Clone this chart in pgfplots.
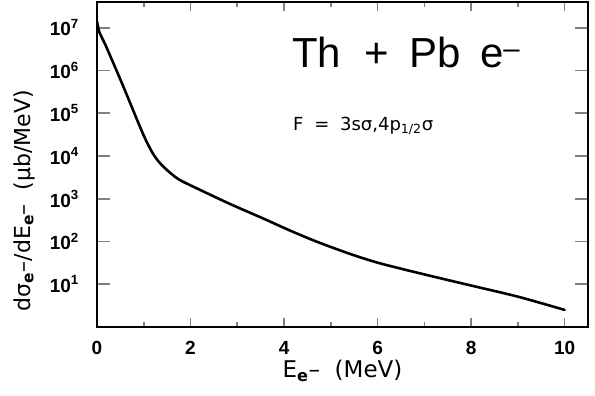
\documentclass[border=0pt]{standalone}
\usepackage{fontspec}
\setmainfont{Liberation Sans}
\newfontfamily\wide{DejaVu Sans}
\usepackage{pgfplots}
\pgfplotsset{compat=1.18}
\begin{document}
\begin{tikzpicture}
\begin{semilogyaxis}[
  at={(0,0)}, anchor=south west,
  scale only axis, width=491bp, height=325bp,
  xmin=0, xmax=10.5, ymin=1, ymax=4e7,
  axis line style={line width=1.8bp},
  tick align=inside,
  xtick={0,2,4,6,8,10},
  xticklabels={\textbf{0},\textbf{2},\textbf{4},\textbf{6},\textbf{8},\textbf{10}},
  minor xtick={1,3,5,7,9},
  ytick={10,100,1000,1e4,1e5,1e6,1e7},
  yticklabels={\textbf{10}\textsuperscript{\textbf{1}},\textbf{10}\textsuperscript{\textbf{2}},\textbf{10}\textsuperscript{\textbf{3}},\textbf{10}\textsuperscript{\textbf{4}},\textbf{10}\textsuperscript{\textbf{5}},\textbf{10}\textsuperscript{\textbf{6}},\textbf{10}\textsuperscript{\textbf{7}}},
  yminorticks=false,
  xtick style={line width=1.6bp, /pgfplots/major tick length=9bp, /pgfplots/minor tick length=5bp},
  ytick style={line width=1.6bp, /pgfplots/major tick length=13bp},
  xticklabel style={font=\fontsize{19bp}{21bp}\selectfont, inner sep=0pt, anchor=north, yshift=-14bp},
  yticklabel style={font=\fontsize{19bp}{21bp}\selectfont, inner sep=0pt, anchor=east, xshift=-18bp},
  xlabel={E\textsubscript{\textbf{e}}–\ \ (MeV)},
  xlabel style={font=\wide\fontsize{23bp}{25bp}\selectfont, at={(axis description cs:0.5,0)}, anchor=north, yshift=-33bp, inner sep=0pt},
  ylabel={dσ\textsubscript{\textbf{e}}–/dE\textsubscript{\textbf{e}}–\ \ (μb/MeV)},
  ylabel style={font=\wide\fontsize{22bp}{24bp}\selectfont, at={(axis description cs:0,0.5)}, anchor=south, yshift=62bp, xshift=-36bp, inner sep=0pt},
]
\addplot[black, line width=2.6bp, smooth, tension=0.5, line join=round, line cap=round] coordinates {
 (0,1.41e7) (0.05,7.94e6) (0.18,3.98e6) (0.35,1.48e6) (0.55,4.57e5)
 (0.75,1.35e5) (0.92,4.79e4) (1.05,2.29e4) (1.2,1.12e4) (1.35,6.76e3)
 (1.55,4.17e3) (1.77,2.75e3) (2.2,1.62e3) (2.84,759) (3.55,347) (4.12,182)
 (4.69,100) (5.41,51.3) (6.05,30.9) (7,17.0) (8,9.33) (9,5.13) (10,2.51)
};
\node[anchor=base west, inner sep=0pt, font=\fontsize{42bp}{44bp}\selectfont] at (axis description cs:0.397,0.797) {Th\hspace{0.55em}+\hspace{0.5em}Pb\hspace{0.45em}e\textsuperscript{–}};
\node[anchor=base west, inner sep=0pt, font=\wide\fontsize{18bp}{20bp}\selectfont] at (axis description cs:0.399,0.606) {F\hspace{0.6em}=\hspace{0.6em}3sσ,4p\textsubscript{1/2}σ};
\end{semilogyaxis}
\pgfresetboundingbox
\path (-97bp,-69bp) rectangle (498bp,327bp);
\end{tikzpicture}
\end{document}
